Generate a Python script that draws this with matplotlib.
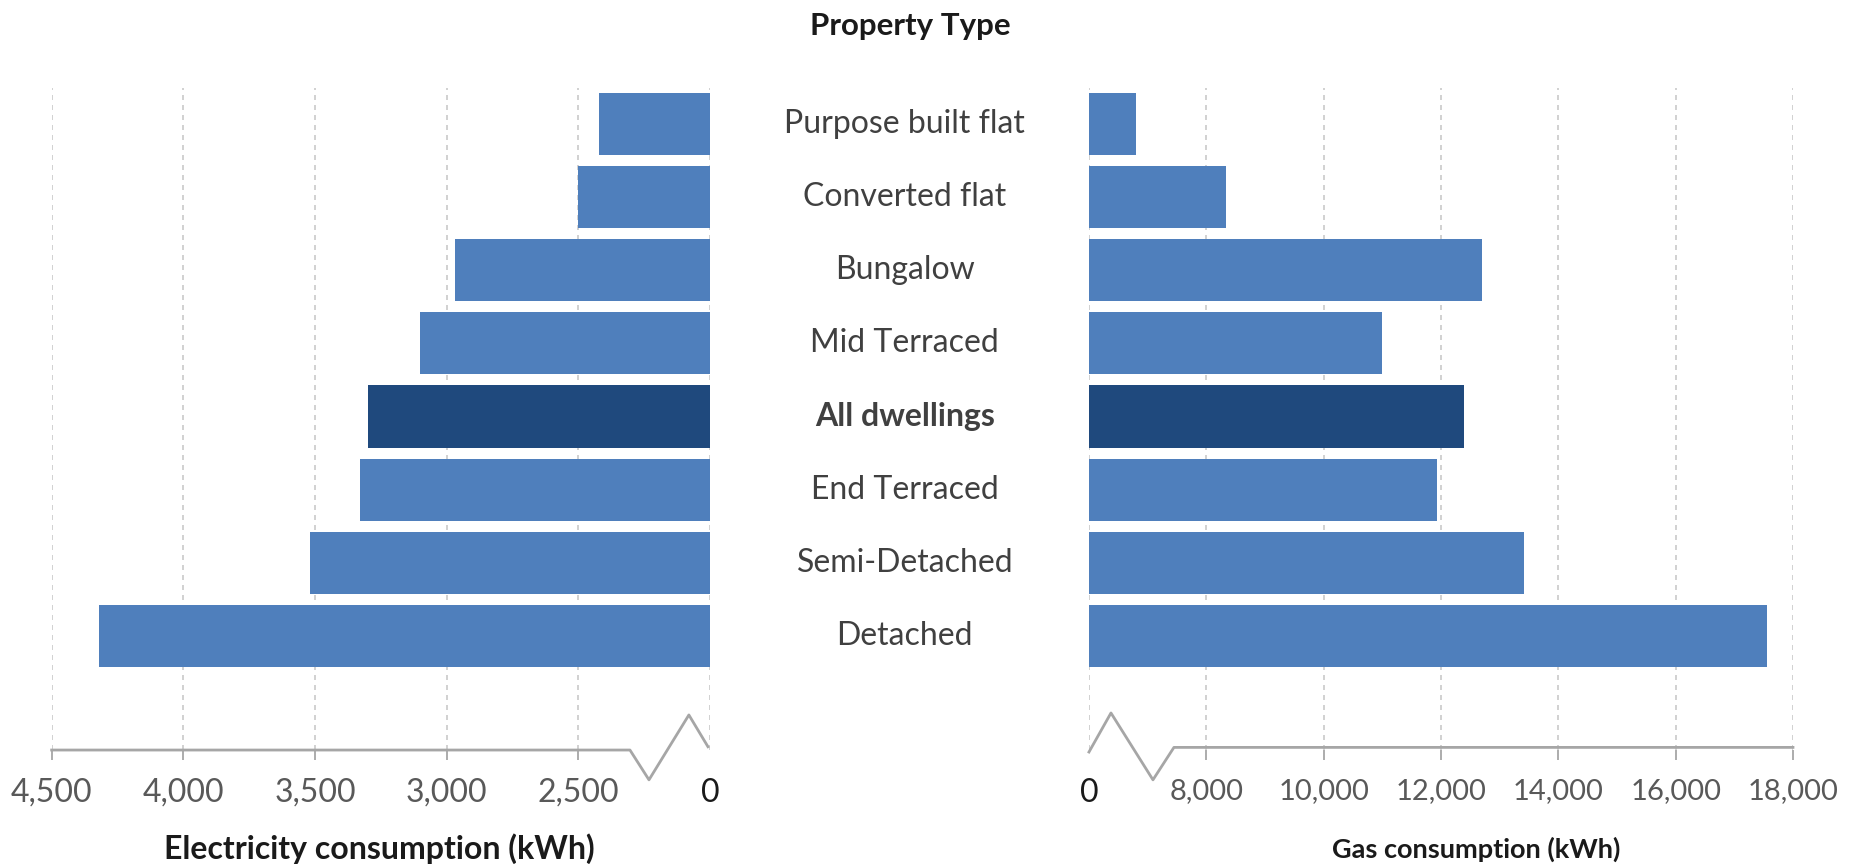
import matplotlib.pyplot as plt
import matplotlib.transforms as mtransforms

property_types = ["Purpose built flat", "Converted flat", "Bungalow", "Mid Terraced",
                  "All dwellings", "End Terraced", "Semi-Detached", "Detached"]
electricity_kwh = [2420, 2500, 2970, 3100, 3300, 3330, 3520, 4320]
gas_kwh = [6800, 8340, 12700, 11000, 12400, 11930, 13410, 17550]
highlight = "All dwellings"

elec_ticks = [4500, 4000, 3500, 3000, 2500]
gas_ticks = [8000, 10000, 12000, 14000, 16000, 18000]

# broken axes: the "0" sits where these values would be
elec_break = 2000
gas_break = 6000

light = "#4F7FBC"
dark = "#1F497D"
axis_grey = "#a6a6a6"

plt.rcParams['font.family'] = ['Lato', 'DejaVu Sans']

fig = plt.figure(figsize=(18.58, 8.64), dpi=100)
ax_e = fig.add_axes([0.0278, 0.1319, 0.3543, 0.7662])
ax_g = fig.add_axes([0.5861, 0.1319, 0.3789, 0.7662])

ypos = list(range(len(property_types)))
colors = [dark if p == highlight else light for p in property_types]

ax_e.barh(ypos, [v - elec_break for v in electricity_kwh], left=elec_break,
          height=0.85, color=colors)
ax_e.set_xlim(4500, elec_break)
ax_e.set_xticks(elec_ticks + [elec_break])
ax_e.set_xticklabels([f"{t:,}" for t in elec_ticks] + ["0"])

ax_g.barh(ypos, [v - gas_break for v in gas_kwh], left=gas_break,
          height=0.85, color=colors)
ax_g.set_xlim(gas_break, 18000)
ax_g.set_xticks([gas_break] + gas_ticks)
ax_g.set_xticklabels(["0"] + [f"{t:,}" for t in gas_ticks])

for ax, lsize in ((ax_e, 23), (ax_g, 21)):
    ax.set_ylim(8.56, -0.49)
    ax.set_yticks([])
    for s in ax.spines.values():
        s.set_visible(False)
    ax.grid(axis='x', color='#c9c9c9', linestyle=(0, (3, 3)), linewidth=1.2)
    ax.set_axisbelow(True)
    ax.tick_params(axis='x', direction='out', length=7, width=1.3, color=axis_grey,
                   labelsize=lsize, labelcolor='#595959', pad=13)

# hide tick marks at the break and darken the zero labels
ax_e.xaxis.get_major_ticks()[-1].tick1line.set_visible(False)
ax_e.get_xticklabels()[-1].set_color('#1a1a1a')
ax_g.xaxis.get_major_ticks()[0].tick1line.set_visible(False)
ax_g.get_xticklabels()[0].set_color('#1a1a1a')
ax_g.get_xticklabels()[0].set_fontsize(23)

# axis lines with the zigzag break
ax_e.plot([0, 0.8785, 0.9074, 0.968, 0.997], [0, 0, -0.045, 0.053, 0.005],
          transform=ax_e.transAxes, clip_on=False, color=axis_grey, lw=2)
ax_g.plot([0, 0.03125, 0.0909, 0.1207, 1], [-0.003, 0.056, -0.045, 0.004, 0.004],
          transform=ax_g.transAxes, clip_on=False, color=axis_grey, lw=2)

# category labels in the middle column
trans = mtransforms.blended_transform_factory(fig.transFigure, ax_g.transData)
for y, name in zip(ypos, property_types):
    ax_g.text(0.487, y, name, transform=trans, ha='center', va='center',
              fontsize=23, color='#404040',
              fontweight='bold' if name == highlight else 'normal')

fig.text(0.49, 1 - 26 / 864, "Property Type", ha='center', va='center',
         fontsize=22.5, fontweight='bold', color='#1a1a1a')
fig.text(379 / 1858, 1 - 849 / 864, "Electricity consumption (kWh)", ha='center',
         va='center', fontsize=23, fontweight='bold', color='#1a1a1a')
fig.text(1476 / 1858, 1 - 849 / 864, "Gas consumption (kWh)", ha='center',
         va='center', fontsize=19.5, fontweight='bold', color='#1a1a1a')

fig.savefig('out.png', dpi=100)
